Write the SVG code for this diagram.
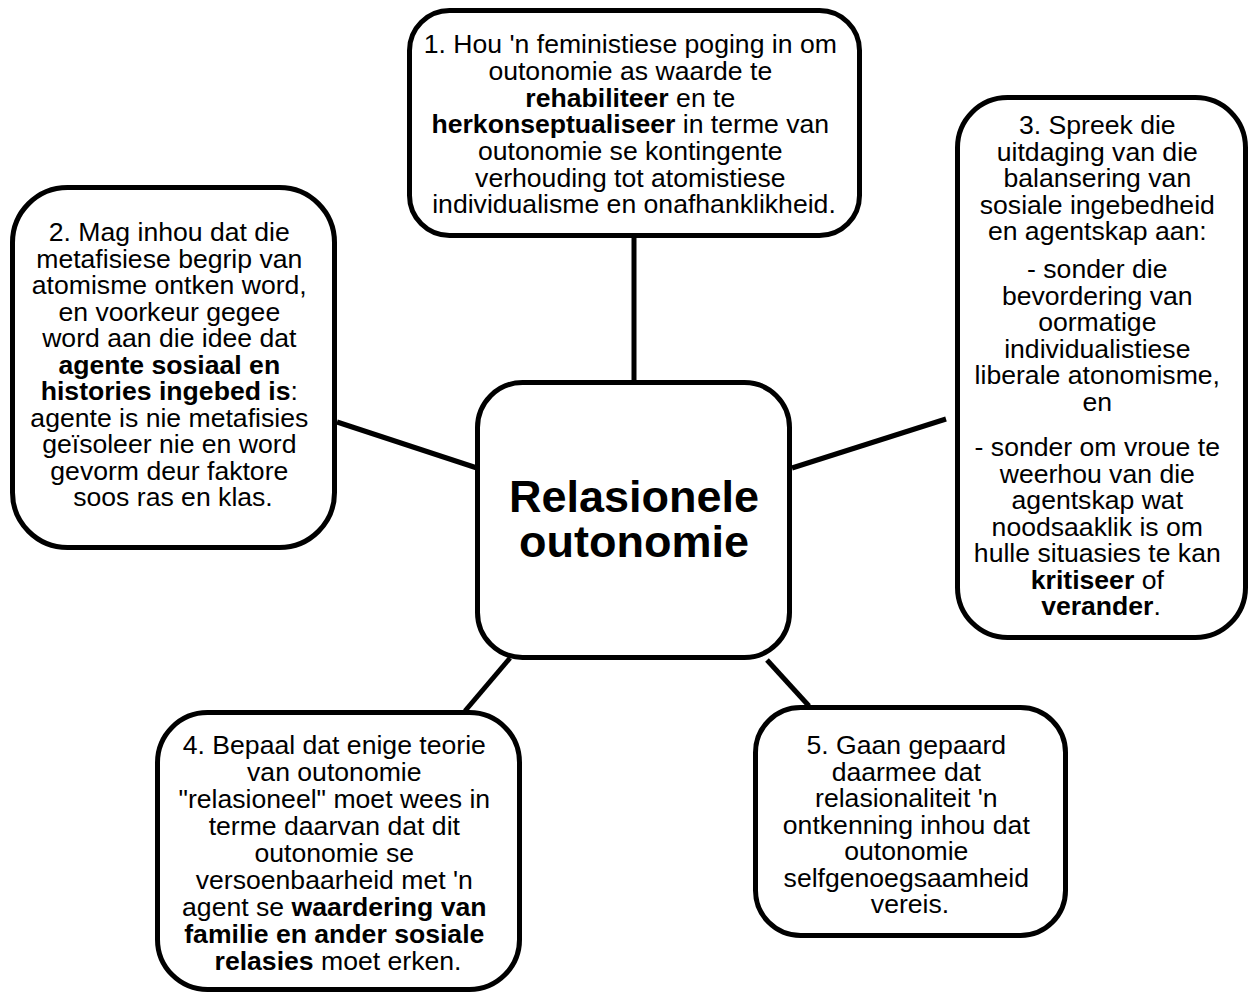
<svg xmlns="http://www.w3.org/2000/svg" width="1250" height="994" viewBox="0 0 1250 994">
<style>
.box{fill:#fff;stroke:#000;stroke-width:5}
.con{stroke:#000;stroke-width:5;fill:none}
.t{font-family:"Liberation Sans",Arial,Helvetica,sans-serif;font-size:26.6px;text-anchor:middle;fill:#000}
.b{font-weight:bold}
.c{font-family:"Liberation Sans",Arial,Helvetica,sans-serif;font-size:45px;font-weight:bold;text-anchor:middle;fill:#000}
</style>
<rect width="1250" height="994" fill="#fff"/>
<g id="connectors">
<line class="con" x1="634" y1="236" x2="634" y2="383"/>
<line class="con" x1="337" y1="422" x2="477" y2="468"/>
<line class="con" x1="792" y1="468" x2="946" y2="419"/>
<line class="con" x1="510" y1="658" x2="465" y2="711"/>
<line class="con" x1="767" y1="660" x2="809" y2="706"/>
</g>
<g id="center">
<rect class="box" x="477.5" y="382.5" width="312" height="275" rx="45"/>
<text class="c" x="634" y="512">Relasionele</text>
<text class="c" x="634" y="557">outonomie</text>
</g>
<g id="node1">
<rect class="box" x="409.5" y="10.5" width="450" height="225" rx="40"/>
<text class="t">
<tspan x="634" y="53">1. Hou 'n feministiese poging in om</tspan>
<tspan x="634" y="80">outonomie as waarde te</tspan>
<tspan x="634" y="106.5"><tspan class="b">rehabiliteer</tspan> en te</tspan>
<tspan x="634" y="133"><tspan class="b">herkonseptualiseer</tspan> in terme van</tspan>
<tspan x="634" y="160">outonomie se kontingente</tspan>
<tspan x="634" y="186.5">verhouding tot atomistiese</tspan>
<tspan x="634" y="213">individualisme en onafhanklikheid.</tspan>
</text>
</g>
<g id="node2">
<rect class="box" x="12.5" y="187.5" width="322" height="360" rx="55"/>
<text class="t">
<tspan x="173" y="241">2. Mag inhou dat die</tspan>
<tspan x="173" y="267.5">metafisiese begrip van</tspan>
<tspan x="173" y="294">atomisme ontken word,</tspan>
<tspan x="173" y="320.5">en voorkeur gegee</tspan>
<tspan x="173" y="347">word aan die idee dat</tspan>
<tspan x="173" y="373.5" class="b">agente sosiaal en</tspan>
<tspan x="173" y="400"><tspan class="b">histories ingebed is</tspan>:</tspan>
<tspan x="173" y="426.5">agente is nie metafisies</tspan>
<tspan x="173" y="453">geïsoleer nie en word</tspan>
<tspan x="173" y="479.5">gevorm deur faktore</tspan>
<tspan x="173" y="506">soos ras en klas.</tspan>
</text>
</g>
<g id="node3">
<rect class="box" x="957.5" y="97.5" width="288" height="540" rx="50"/>
<text class="t">
<tspan x="1101" y="134">3. Spreek die</tspan>
<tspan x="1101" y="160.5">uitdaging van die</tspan>
<tspan x="1101" y="187">balansering van</tspan>
<tspan x="1101" y="213.5">sosiale ingebedheid</tspan>
<tspan x="1101" y="240">en agentskap aan:</tspan>
<tspan x="1101" y="278">- sonder die</tspan>
<tspan x="1101" y="304.5">bevordering van</tspan>
<tspan x="1101" y="331">oormatige</tspan>
<tspan x="1101" y="357.5">individualistiese</tspan>
<tspan x="1101" y="384">liberale atonomisme,</tspan>
<tspan x="1101" y="410.5">en</tspan>
<tspan x="1101" y="456">- sonder om vroue te</tspan>
<tspan x="1101" y="482.5">weerhou van die</tspan>
<tspan x="1101" y="509">agentskap wat</tspan>
<tspan x="1101" y="535.5">noodsaaklik is om</tspan>
<tspan x="1101" y="562">hulle situasies te kan</tspan>
<tspan x="1101" y="588.5"><tspan class="b">kritiseer</tspan> of</tspan>
<tspan x="1101" y="615"><tspan class="b">verander</tspan>.</tspan>
</text>
</g>
<g id="node4">
<rect class="box" x="157.5" y="712.5" width="362" height="277" rx="50"/>
<text class="t">
<tspan x="338" y="754">4. Bepaal dat enige teorie</tspan>
<tspan x="338" y="781">van outonomie</tspan>
<tspan x="338" y="808">"relasioneel" moet wees in</tspan>
<tspan x="338" y="835">terme daarvan dat dit</tspan>
<tspan x="338" y="862">outonomie se</tspan>
<tspan x="338" y="889">versoenbaarheid met 'n</tspan>
<tspan x="338" y="916">agent se <tspan class="b">waardering van</tspan></tspan>
<tspan x="338" y="943" class="b">familie en ander sosiale</tspan>
<tspan x="338" y="970"><tspan class="b">relasies</tspan> moet erken.</tspan>
</text>
</g>
<g id="node5">
<rect class="box" x="755.5" y="707.5" width="310" height="228" rx="45"/>
<text class="t">
<tspan x="910" y="754">5. Gaan gepaard</tspan>
<tspan x="910" y="780.5">daarmee dat</tspan>
<tspan x="910" y="807">relasionaliteit 'n</tspan>
<tspan x="910" y="833.5">ontkenning inhou dat</tspan>
<tspan x="910" y="860">outonomie</tspan>
<tspan x="910" y="886.5">selfgenoegsaamheid</tspan>
<tspan x="910" y="913">vereis.</tspan>
</text>
</g>
</svg>
